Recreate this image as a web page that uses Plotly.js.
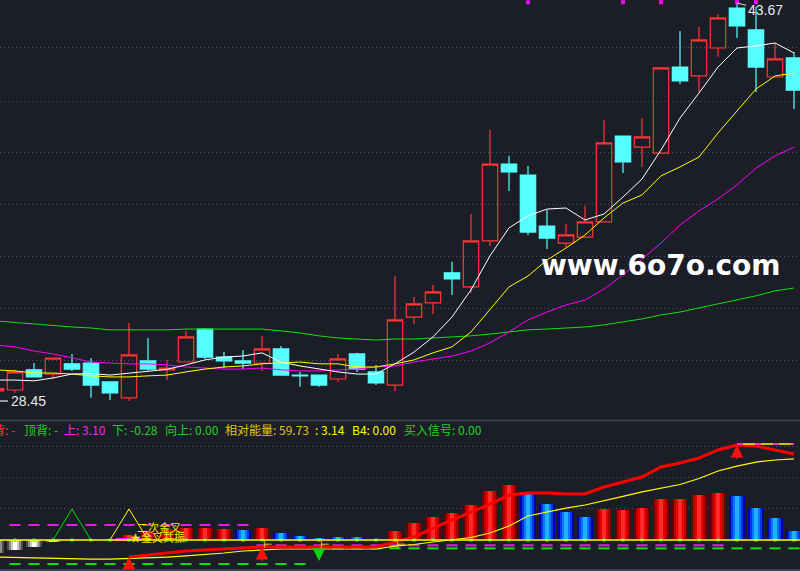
<!DOCTYPE html>
<html><head><meta charset="utf-8">
<script src="https://cdn.plot.ly/plotly-3.0.1.min.js"></script>
<style>html,body{margin:0;padding:0;background:#1c1e27;overflow:hidden}#chart{width:800px;height:571px}</style>
</head><body><div id="chart"></div>
<script>
// ---------- data ----------
const days = [-1,0,1,2,3,4,5,6,7,8,9,10,11,12,13,14,15,16,17,18,19,20,21,22,23,24,25,26,27,28,29,30,31,32,33,34,35,36,37,38,39,40,41];
const openP  = [28.84,28.87,29.64,29.48,29.87,29.90,29.18,28.57,29.98,29.64,29.94,31.20,30.13,29.98,29.90,30.44,29.44,29.44,29.29,30.25,29.56,29.06,31.66,32.20,33.35,32.81,34.57,37.51,37.09,35.14,34.49,34.72,35.30,38.58,38.16,37.93,41.22,40.88,41.95,43.48,42.64,40.84,41.57];
const highP  = [28.95,29.64,29.90,30.10,30.25,30.09,29.20,31.43,30.86,30.02,31.13,31.24,30.32,30.40,30.94,30.55,29.56,29.46,30.25,30.29,29.83,33.23,32.43,32.89,33.77,35.60,38.81,37.82,37.44,35.75,35.22,35.91,39.20,38.60,39.27,41.20,42.60,42.75,43.25,43.67,43.52,42.14,41.80];
const lowP   = [28.80,28.76,29.35,29.29,29.60,28.57,28.49,28.45,29.62,29.25,29.92,30.06,29.71,29.67,29.60,29.41,28.99,28.99,29.18,29.56,29.06,28.83,31.40,31.78,32.50,32.58,34.38,36.48,34.80,34.26,34.34,34.70,35.28,37.17,37.40,37.91,40.57,40.27,41.61,42.33,40.27,40.82,39.62];
const closeP = [28.92,29.56,29.37,30.09,29.67,29.06,28.76,30.21,29.67,29.71,30.90,30.13,29.98,29.90,30.44,29.44,29.41,29.06,30.06,29.67,29.14,31.55,32.16,32.62,33.12,34.57,37.51,37.21,34.91,34.68,34.80,35.30,38.32,37.59,38.55,41.19,40.69,42.26,43.10,42.79,41.22,41.53,40.34];
const ma5  = [29.25,29.25,29.22,29.33,29.48,29.50,29.44,29.52,29.60,29.66,29.83,30.02,30.13,30.17,30.29,29.94,29.79,29.67,29.56,29.48,29.48,29.87,30.32,30.90,31.66,32.70,34.00,35.07,35.53,35.79,35.83,35.37,35.60,36.25,36.94,38.05,39.27,40.23,41.22,41.95,42.03,42.14,41.76];
const ma10 = [29.64,29.60,29.52,29.52,29.48,29.41,29.37,29.37,29.41,29.44,29.56,29.67,29.75,29.79,29.87,29.90,29.94,29.87,29.87,29.75,29.75,29.87,30.02,30.29,30.52,31.09,31.93,32.81,33.23,33.84,34.30,34.80,35.45,36.02,36.33,37.06,37.40,37.78,38.70,39.54,40.38,40.88,40.99];
const ma20 = [30.59,30.52,30.36,30.25,30.10,29.94,29.90,29.87,29.87,29.83,29.75,29.71,29.67,29.67,29.71,29.64,29.60,29.60,29.64,29.67,29.75,29.79,29.94,30.06,30.17,30.36,30.67,31.09,31.55,31.85,32.12,32.31,32.73,33.27,33.88,34.49,35.18,35.72,36.18,36.71,37.36,37.82,38.16];
const ma60 = [31.51,31.45,31.40,31.32,31.28,31.24,31.17,31.17,31.17,31.17,31.20,31.20,31.20,31.20,31.20,31.13,31.05,30.94,30.86,30.82,30.78,30.82,30.82,30.86,30.90,30.94,31.01,31.09,31.17,31.20,31.24,31.28,31.36,31.47,31.59,31.74,31.85,32.01,32.16,32.31,32.47,32.66,32.77];
const alertDays = [27,32,34,38,39];
const priceGrid = [29.98,31.97,33.96,35.95,37.94,39.92,41.95];
const highLabel = "43.67", lowLabel = "28.45";

// lower panel
const energy = [-8.4,-6.5,-4.5,-1.3,0.6,0,0.8,3.0,5.8,7.1,7.7,7.7,7.1,6.5,7.7,4.5,2.6,1.0,1.9,1.9,0.6,5.8,11.0,14.8,17.4,22.6,31.6,35.5,30.3,23.2,18.1,14.8,20.0,19.4,20.6,26.5,26.5,29.0,30.3,28.4,20.6,14.2,5.8];
const tones  = ['g','g','g','g','r','r','b','r','r','r','r','r','r','b','r','b','b','b','b','b','b','r','r','r','r','r','r','r','b','b','b','b','r','r','r','r','r','r','r','b','b','b','b'];
const strength = [null,null,null,null,null,null,null,-11.0,-9.7,-8.7,-7.1,-6.5,-5.8,-5.2,-4.5,-4.5,-4.5,-4.5,-4.5,-4.5,-4.5,-1.3,1.9,7.7,12.9,18.1,23.2,29.0,30.3,30.3,29.7,29.7,34.2,37.4,40.6,47.1,49.7,52.9,58.1,61.3,60.6,58.1,55.5];
const avgLine = [-11.0,-11.3,-11.6,-11.9,-12.3,-12.3,-12.3,-11.9,-11.6,-11.0,-10.3,-9.4,-8.4,-7.1,-6.5,-5.8,-5.8,-5.8,-5.8,-5.8,-5.8,-3.9,-2.9,-1.3,0.3,1.6,4.5,9.0,15.5,18.1,20.6,22.6,25.2,28.1,31.0,33.5,35.8,39.7,44.5,47.7,50.3,51.6,52.3];
const upLevel = [null,9.7,9.7,9.7,9.7,9.7,9.7,9.7,9.7,9.7,9.7,9.7,9.7,9.7,-3.4,-3.4,-3.4,-3.4,-3.4,-3.4,-3.4,-3.4,-3.4,-3.4,-3.4,-3.4,-3.4,-3.4,-3.4,-3.4,-3.4,-3.4,-3.4,-3.4,-3.4,-3.4,-3.4,-3.4,-3.4,null,null,null,null];
const dnLevel = [null,-15.5,-15.5,-15.5,-15.5,-15.5,-15.5,-15.5,-15.5,-15.5,-15.5,-15.5,-15.5,-15.5,-15.5,-15.5,-15.5,-5.4,-5.4,-5.4,-5.4,-5.4,-5.4,-5.4,-5.4,-5.4,-5.4,-5.4,-5.4,-5.4,-5.4,-5.4,-5.4,-5.4,-5.4,-5.4,-5.4,-5.4,-5.4,-5.4,-5.4,-5.4,-5.4];
const crossA = [null,null,null,0,20,0,null,null,null,null,null,null,null,null,null,null,null,null,null,null,null,null,null,null,null,null,null,null,null,null,null,null,null,null,null,null,null,null,null,null,null,null,null];
const crossB = [null,null,null,null,null,null,0,20,0,null,null,null,null,null,null,null,null,null,null,null,null,null,null,null,null,null,null,null,null,null,null,null,null,null,null,null,null,null,null,null,null,null,null];
const resonance = [null,null,null,null,null,null,null,1.9,null,null,null,null,null,null,null,null,null,null,null,null,null,null,null,null,null,null,null,null,null,null,null,null,null,null,null,null,null,null,null,null,null,null,null];
const peakLine = [null,null,null,null,null,null,null,null,null,null,null,null,null,null,null,null,null,null,null,null,null,null,null,null,null,null,null,null,null,null,null,null,null,null,null,null,null,null,null,61.9,61.9,61.9,61.9];
const buyDays = [6,13,38], sellDays = [16];
const flagDays = [13,16,20];
const crossLabel1 = "二次金叉", crossLabel2 = "★金叉共振";
const infoItems = [
  ["背: -", "#ff3030"], ["顶背: -", "#20d020"], ["上: 3.10", "#ff20ff"], ["下: -0.28", "#20d020"],
  ["向上: 0.00", "#20d020"], ["相对能量: 59.73", "#e0c800"], [": 3.14", "#ffff00"], ["B4: 0.00", "#ffff00"], ["买入信号: 0.00", "#20d020"]
];
const infoX = [-9, 22, 62, 110, 163, 223, 313, 350, 402];
const watermark = "www.6o7o.com";

// ---------- drawing ----------
const BG = '#1c1e27';
const traces = [];
const dayVal = i => days.indexOf(i);

traces.push({type:'candlestick', x:days, open:openP, high:highP, low:lowP, close:closeP,
  xaxis:'x', yaxis:'y', whiskerwidth:0, hoverinfo:'skip',
  increasing:{line:{color:'#ff3535', width:1.2}, fillcolor:'rgba(0,0,0,0)'},
  decreasing:{line:{color:'#55ffff', width:1.2}, fillcolor:'#55ffff'}});
[[ma60,'#10e010'],[ma20,'#ff00ff'],[ma10,'#ffff00'],[ma5,'#ffffff']].forEach(([v,c]) =>
  traces.push({type:'scatter', mode:'lines', x:days, y:v, line:{color:c, width:1}, xaxis:'x', yaxis:'y', hoverinfo:'skip'}));
traces.push({type:'scatter', mode:'markers', x:alertDays, y:alertDays.map(()=>43.70),
  marker:{symbol:'square', size:4, color:'#ff00ff'}, xaxis:'x', yaxis:'y', hoverinfo:'skip'});

// lower panel bars (layered to imitate cylinders)
const pal = {r:['#6a0000','#b00000','#ea0000','#ff2a2a'], b:['#0000a8','#0036e6','#0078ff','#22b0ff'], g:['#4a4a4a','#8c8c8c','#cccccc','#ffffff']};
[0.88,0.68,0.46,0.22].forEach((w,k) => traces.push({type:'bar', x:days, y:energy, width:w,
  marker:{color:tones.map(t=>pal[t][k]), line:{width:0}}, xaxis:'x', yaxis:'y2', hoverinfo:'skip'}));
traces.push({type:'bar', x:days, y:resonance, base:-0.6, width:1.42, marker:{color:'#ff10ff', line:{width:0}}, xaxis:'x', yaxis:'y2', hoverinfo:'skip'});

traces.push({type:'scatter', mode:'lines', x:days, y:crossA, line:{color:'#00e000', width:1}, xaxis:'x', yaxis:'y2', hoverinfo:'skip'});
traces.push({type:'scatter', mode:'lines', x:days, y:crossB, line:{color:'#ffff00', width:1}, xaxis:'x', yaxis:'y2', hoverinfo:'skip'});
traces.push({type:'scatter', mode:'markers', x:days, y:upLevel, marker:{symbol:'line-ew', size:8, line:{color:'#e020e0', width:2}}, xaxis:'x', yaxis:'y2', hoverinfo:'skip'});
traces.push({type:'scatter', mode:'markers', x:days, y:dnLevel, marker:{symbol:'line-ew', size:8, line:{color:'#10e010', width:2}}, xaxis:'x', yaxis:'y2', hoverinfo:'skip'});
traces.push({type:'scatter', mode:'lines', x:days, y:avgLine, line:{color:'#ffff00', width:1.2, shape:'linear'}, xaxis:'x', yaxis:'y2', hoverinfo:'skip'});
traces.push({type:'scatter', mode:'lines', x:days, y:strength, line:{color:'#ff0000', width:3}, xaxis:'x', yaxis:'y2', hoverinfo:'skip'});
traces.push({type:'scatter', mode:'lines', x:days, y:peakLine, line:{color:'#ffff00', width:1.5}, xaxis:'x', yaxis:'y2', hoverinfo:'skip'});
traces.push({type:'scatter', mode:'lines', x:days, y:peakLine, line:{color:'#ff00ff', width:1.5, dash:'6px,12px'}, xaxis:'x', yaxis:'y2', hoverinfo:'skip'});
traces.push({type:'scatter', mode:'markers', x:days.slice(1), y:days.slice(1).map(()=>0),
  marker:{symbol:'square', size:3, color:'#00ff00'}, xaxis:'x', yaxis:'y2', hoverinfo:'skip'});

const ann = [];
// info line
infoItems.forEach(([t,c],i) => ann.push({xref:'paper', yref:'paper', x:infoX[i]/800, y:(571-429)/571,
  xanchor:'left', yanchor:'middle', text:t, showarrow:false, font:{family:'Noto Sans CJK SC', size:12, color:c}}));
// high / low labels
ann.push({xref:'x', yref:'y', x:38, y:highP[dayVal(38)], text:highLabel, showarrow:true, arrowhead:0, arrowwidth:1, arrowcolor:'#dddddd',
  ax:28, ay:7, font:{family:'Liberation Sans', size:14, color:'#e8e8e8'}, xanchor:'center', yanchor:'middle'});
ann.push({xref:'paper', yref:'paper', x:9/800, y:(571-401)/571, text:lowLabel, showarrow:false, xanchor:'left', yanchor:'middle',
  font:{family:'Liberation Sans', size:14, color:'#e8e8e8'}});
// watermark
ann.push({xref:'paper', yref:'paper', x:661/800, y:(571-265)/571, text:'<b>'+watermark+'</b>', showarrow:false,
  xanchor:'center', yanchor:'middle', font:{family:'DejaVu Sans', size:28, color:'#ffffff'}});
// cross labels
ann.push({xref:'x', yref:'y2', x:7.6, y:8.4, text:crossLabel1, showarrow:false, xanchor:'center', font:{family:'Noto Sans CJK SC', size:11, color:'#e8e800'}});
ann.push({xref:'x', yref:'y2', x:7.5, y:1.9, text:crossLabel2, showarrow:false, xanchor:'center', font:{family:'Noto Sans CJK SC', size:11, color:'#e8e800'}});
// arrows
buyDays.forEach(d => ann.push({xref:'x', yref:'y2', x:d, y:strength[dayVal(d)], showarrow:true, text:'', ax:0, ay:15,
  arrowhead:2, arrowsize:1, arrowwidth:2.5, arrowcolor:'#ff1010'}));
sellDays.forEach(d => ann.push({xref:'x', yref:'y2', x:d, y:strength[dayVal(d)]-9, showarrow:true, text:'', ax:0, ay:-14,
  arrowhead:2, arrowsize:1, arrowwidth:2.5, arrowcolor:'#10d010'}));
// small yellow flags
flagDays.forEach(d => ann.push({xref:'x', yref:'y2', x:d+0.3, y:-3, text:'⊢', showarrow:false,
  font:{family:'DejaVu Sans', size:11, color:'#f0e000'}}));

const shapes = [
  {type:'line', xref:'paper', yref:'y2', x0:0, x1:1, y0:0, y1:0, line:{color:'#ffff00', width:1.5}, layer:'above'},
  {type:'line', xref:'paper', yref:'paper', x0:0, x1:1, y0:(571-420.5)/571, y1:(571-420.5)/571, line:{color:'#3c404e', width:2}},
  {type:'line', xref:'paper', yref:'paper', x0:0, x1:1, y0:1/571, y1:1/571, line:{color:'#3c404e', width:2}},
  {type:'line', xref:'paper', yref:'paper', x0:0, x1:8/800, y0:(571-401)/571, y1:(571-401)/571, line:{color:'#e8e8e8', width:1.2}}
];

const layout = {
  width:800, height:571, margin:{l:0,r:0,t:0,b:0,pad:0},
  paper_bgcolor:BG, plot_bgcolor:BG, showlegend:false,
  boxgap:0.1, boxgroupgap:0.1, barmode:'overlay', bargap:0,
  xaxis:{range:[-0.789,41.316], showgrid:false, zeroline:false, showticklabels:false, ticks:'', showline:false,
         rangeslider:{visible:false}, anchor:'y2', fixedrange:true},
  yaxis:{domain:[0.268,1], range:[27.80,43.785], tickvals:priceGrid, showticklabels:false, ticks:'',
         showgrid:true, gridcolor:'#4c4f5a', griddash:'1px,3px', gridwidth:1, zeroline:false, showline:false, anchor:'x'},
  yaxis2:{domain:[0,0.26445], range:[-20,77.42], tickvals:[20,40,60], showticklabels:false, ticks:'',
         showgrid:true, gridcolor:'#4c4f5a', griddash:'1px,3px', gridwidth:1, zeroline:false, showline:false, anchor:'x'},
  shapes:shapes, annotations:ann
};
Plotly.newPlot('chart', traces, layout, {staticPlot:true, displayModeBar:false});
</script>
</body></html>
